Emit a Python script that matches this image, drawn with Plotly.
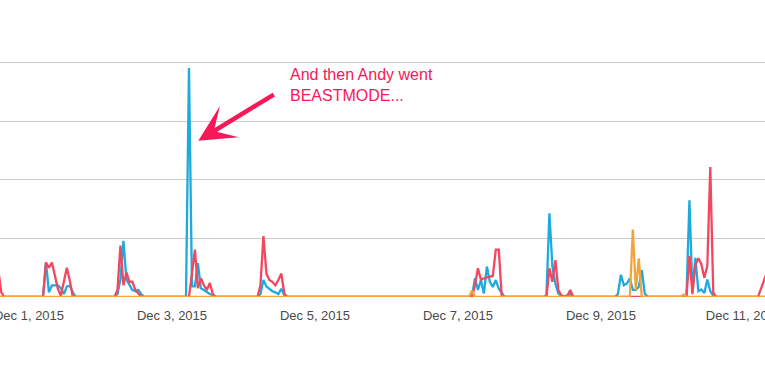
import pandas as pd
import plotly.graph_objects as go

# ---- data (hourly activity bursts; each burst starts/ends at zero) ----
burst_days = ["2015-11-30", "2015-12-01", "2015-12-02", "2015-12-03", "2015-12-04",
              "2015-12-07", "2015-12-08", "2015-12-09", "2015-12-10", "2015-12-11"]
burst_first_hour = [12, 3, 4, 4, 4, 3, 4, 4, 2, 3]
sample_minute = 42

blue_bursts = [
    [0, 0, 0, 0],
    [0, 0, 5.9, 0.8, 2.0, 2.0, 2.0, 1.5, 0.5, 1.8, 1.9, 0.8, 0],
    [0, 0.5, 3.0, 9.6, 3.0, 2.0, 1.2, 1.0, 1.2, 0.5, 0],
    [0, 39.1, 1.8, 1.8, 5.8, 1.5, 1.2, 0.8, 0.5, 0.3, 0],
    [0, 0.5, 2.9, 1.8, 1.4, 1.0, 0.8, 0.5, 1.4, 0.3, 0],
    [0, 0, 3.2, 1.2, 2.9, 0.6, 5.2, 2.6, 1.7, 2.9, 1.4, 0.6, 0],
    [0, 0.3, 14.3, 5.2, 2.3, 0.6, 0.2, 0.2, 0.2, 0.5, 0],
    [0, 0.5, 3.8, 2.0, 2.3, 3.2, 1.2, 1.2, 1.7, 4.6, 0.6, 0],
    [0, 0, 0, 16.5, 1.0, 6.7, 1.0, 1.3, 0.7, 3.0, 1.0, 0.2, 0],
    [0, 0, 0, 0, 0, 0],
]
red_bursts = [
    [3.5, 4.6, 0.8, 0],
    [0, 0, 5.9, 5.0, 5.9, 3.4, 1.4, 0.2, 2.8, 5.0, 2.8, 0, 0],
    [0, 1.2, 8.8, 2.0, 4.2, 2.6, 2.6, 1.2, 0.5, 0, 0],
    [0, 0, 4.0, 8.1, 1.5, 3.2, 2.0, 1.2, 2.4, 0.5, 0],
    [0, 2.0, 10.4, 4.0, 2.9, 2.6, 2.0, 2.9, 4.0, 0.6, 0],
    [0, 0, 2.0, 4.9, 3.0, 3.2, 3.4, 3.5, 3.6, 8.1, 8.1, 0, 0],
    [0, 0, 4.9, 2.6, 6.3, 1.2, 0.3, 0, 0.2, 1.2, 0],
    [0, 0, 0, 0, 0, 0, 0, 0, 0, 0, 0, 0],
    [0, 0, 0, 7.0, 0.5, 5.5, 6.6, 5.6, 3.3, 5.3, 22.2, 0.7, 0],
    [0, 0, 1.4, 2.8, 4.2, 5.0],
]
orange_bursts = [
    [0, 0, 0, 0],
    [0] * 13,
    [0] * 11,
    [0] * 11,
    [0] * 11,
    [0, 1.1, 0, 0, 0, 0, 0, 0, 0, 0, 0, 0, 0],
    [0] * 11,
    [0, 0, 0, 0, 0, 0, 11.5, 1.2, 6.6, 0, 0, 0],
    [0, 0.4, 0, 0, 0, 0, 0, 0, 0, 0, 0, 0, 0],
    [0, 0, 0, 0, 0, 0],
]

series_names = ["Andy", "Team B", "Team C"]
series_colors = ["#1CABDC", "#F4465F", "#F0A53C"]

x_range = ["2015-11-30 14:16", "2015-12-11 07:04"]
y_range = [0, 40.3]
tick_start = "2015-12-01"

annotation_text = "And then Andy went<br>BEASTMODE..."
annotation_color = "#F7185A"
arrow_target = ("2015-12-03 08:50", 26.7)


def flatten(bursts):
    xs, ys = [], []
    for day, first, vals in zip(burst_days, burst_first_hour, bursts):
        base = pd.Timestamp(day)
        for i, v in enumerate(vals):
            xs.append(base + pd.Timedelta(hours=first + i, minutes=sample_minute))
            ys.append(v)
    return xs, ys


fig = go.Figure()
for name, color, bursts in zip(series_names, series_colors,
                               [blue_bursts, red_bursts, orange_bursts]):
    xs, ys = flatten(bursts)
    fig.add_trace(go.Scatter(x=xs, y=ys, mode="lines", name=name,
                             line=dict(color=color, width=2.3), hoverinfo="skip"))

fig.add_annotation(x=arrow_target[0], y=arrow_target[1], xref="x", yref="y",
                   text="", showarrow=True, arrowhead=3, arrowwidth=4.5,
                   arrowsize=1.35, arrowcolor=annotation_color, standoff=0,
                   ax=77, ay=-47)
fig.add_annotation(x=288 / 765, y=0.898, xref="paper", yref="paper",
                   text=annotation_text, showarrow=False, xanchor="left",
                   yanchor="middle", align="left",
                   font=dict(family="Liberation Sans, Arial, sans-serif", size=16,
                             color=annotation_color))

fig.update_layout(
    width=765, height=365,
    margin=dict(l=0, r=0, t=61, b=68, autoexpand=False),
    paper_bgcolor="white", plot_bgcolor="white",
    showlegend=False,
    font=dict(family="Liberation Sans, Arial, sans-serif", size=13, color="#555555"),
)
fig.update_xaxes(type="date", range=x_range, showgrid=False, zeroline=False,
                 showline=False, ticks="", tick0=tick_start, dtick=2 * 86400000,
                 tickformat="%b %-d, %Y", tickfont=dict(size=13, color="#4a4a4a"),
                 ticklabeloverflow="allow", ticklabelstandoff=9, automargin=False)
fig.update_yaxes(range=y_range, dtick=10, showticklabels=False,
                 gridcolor="#cccccc", gridwidth=1, zeroline=False, showline=False,
                 automargin=False)

fig.write_html("out.html", config={"displayModeBar": False},
               post_script="document.body.style.margin='0';")
